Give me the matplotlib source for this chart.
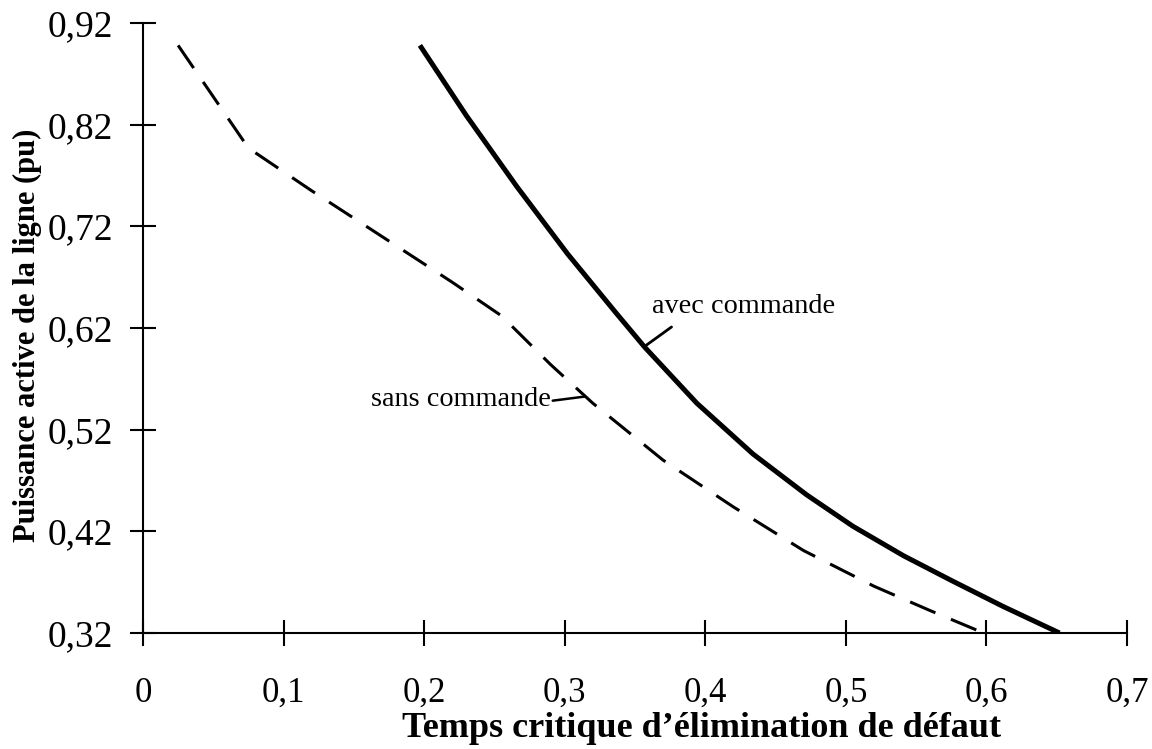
import matplotlib
matplotlib.use("Agg")
import matplotlib.pyplot as plt

plt.rcParams['font.family'] = ['Liberation Serif', 'DejaVu Serif']

# sans commande (dashed)
t_sans = [0.025, 0.075, 0.12, 0.17, 0.22, 0.255, 0.29, 0.32, 0.37, 0.42, 0.47, 0.52, 0.56, 0.598]
p_sans = [0.898, 0.797, 0.755, 0.71, 0.665, 0.632, 0.584, 0.546, 0.49, 0.444, 0.401, 0.366, 0.342, 0.32]

# avec commande (solid)
t_avec = [0.197, 0.23, 0.266, 0.302, 0.337, 0.357, 0.394, 0.434, 0.472, 0.505, 0.541, 0.576, 0.612, 0.652]
p_avec = [0.898, 0.829, 0.759, 0.693, 0.634, 0.601, 0.546, 0.496, 0.456, 0.425, 0.396, 0.371, 0.346, 0.32]

xticks = [0, 0.1, 0.2, 0.3, 0.4, 0.5, 0.6, 0.7]
xtick_labels = ['0', '0,1', '0,2', '0,3', '0,4', '0,5', '0,6', '0,7']
yticks = [0.32, 0.42, 0.52, 0.62, 0.72, 0.82, 0.92]
ytick_labels = ['0,32', '0,42', '0,52', '0,62', '0,72', '0,82', '0,92']

fig = plt.figure(figsize=(11.52, 7.49), dpi=100)
ax = fig.add_axes([0.1241, 0.1549, 0.8542, 0.8144])

ax.plot(t_avec, p_avec, color='black', lw=3.6, solid_capstyle='butt',
        solid_joinstyle='round')
ax.plot(t_sans, p_sans, color='black', lw=2.2, linestyle=(0, (9, 5.5)))

# curve labels with leader lines
ax.text(0.362, 0.635, 'avec commande', fontsize=20.3, ha='left', va='baseline')
ax.annotate('', xy=(0.357, 0.602), xytext=(0.376, 0.621),
            arrowprops=dict(arrowstyle='-', color='black', lw=2,
                            shrinkA=0, shrinkB=0))
ax.text(0.29, 0.5434, 'sans commande', fontsize=20.3, ha='right', va='baseline')
ax.annotate('', xy=(0.314, 0.5525), xytext=(0.2915, 0.5485),
            arrowprops=dict(arrowstyle='-', color='black', lw=1.8,
                            shrinkA=0, shrinkB=0))

ax.set_xlim(0, 0.7)
ax.set_ylim(0.32, 0.92)
ax.set_xticks(xticks)
ax.set_xticklabels(xtick_labels)
ax.set_yticks(yticks)
ax.set_yticklabels(ytick_labels)

for s in ['top', 'right']:
    ax.spines[s].set_visible(False)
for s in ['left', 'bottom']:
    ax.spines[s].set_linewidth(1.5)

ax.tick_params(direction='inout', length=19, width=1.5)
ax.tick_params(axis='x', pad=22, labelsize=25)
ax.tick_params(axis='y', pad=12, labelsize=27)

ax.set_xlabel('Temps critique d’élimination de défaut', fontsize=26,
              fontweight='bold', ha='left', va='baseline')
ax.xaxis.set_label_coords(0.263, -0.17)
ax.set_ylabel('Puissance active de la ligne (pu)', fontsize=22,
              fontweight='bold', va='center')
ax.yaxis.set_label_coords(-0.117, 0.4885)

fig.savefig('out.png', dpi=100)
